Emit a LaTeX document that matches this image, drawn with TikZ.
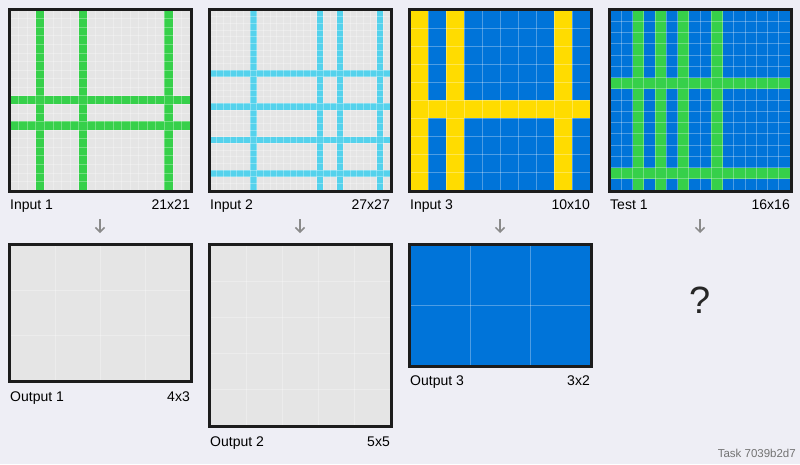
\documentclass[tikz,border=0pt]{standalone}
\usepackage{fontspec}
\setmainfont{Liberation Sans}
\usetikzlibrary{arrows.meta}

\definecolor{sfondo}{HTML}{EEEEF5}
\definecolor{grigio}{HTML}{E5E5E5}
\definecolor{verde}{HTML}{36D04A}
\definecolor{ciano}{HTML}{55D2EC}
\definecolor{blu}{HTML}{0074D9}
\definecolor{giallo}{HTML}{FFDC00}
\definecolor{bordo}{HTML}{1C1C1C}
\definecolor{freccia}{HTML}{8A8A8A}

\tikzset{
  cornice/.style={draw=bordo, line width=3pt},
  linea/.style={white, opacity=0.3, line width=0.6pt},
  etichetta/.style={font=\fontsize{14}{16}\selectfont, inner sep=0pt},
  giu/.style={draw=freccia, line width=1.5pt, -{Straight Barb[length=4.5pt,width=9pt]}}
}

% reticolo: x0, y0, colonne, righe, lato cella
\newcommand{\righe}[5]{%
  \foreach \k in {1,...,\numexpr#3-1\relax}
    \draw[linea] ({#1+\k*#5},#2) -- ({#1+\k*#5},{#2+#4*#5});
  \foreach \k in {1,...,\numexpr#4-1\relax}
    \draw[linea] (#1,{#2+\k*#5}) -- ({#1+#3*#5},{#2+\k*#5});
}

\begin{document}
\begin{tikzpicture}[x=1pt, y=-1pt, line cap=butt]

% Sfondo
\fill[sfondo] (0,0) rectangle (800,464);
\useasboundingbox (0,0) rectangle (800,464);

% Input 1 (21x21)
\def\cella{180/21}
\fill[grigio] (10,10) rectangle (190,190);
\foreach \i in {3,8,18}
  \fill[verde] ({10+\i*\cella},10) rectangle ({10+(\i+1)*\cella},190);
\foreach \j in {10,13}
  \fill[verde] (10,{10+\j*\cella}) rectangle (190,{10+(\j+1)*\cella});
\righe{10}{10}{21}{21}{\cella}
\draw[cornice] (9,9) rectangle (191,191);
\node[etichetta, anchor=base west] (in1) at (10,209) {Input 1};
\node[etichetta, anchor=base east] (dim1) at (190,209) {21x21};

% Input 2 (27x27)
\def\cella{180/27}
\fill[grigio] (210,10) rectangle (390,190);
\foreach \i in {6,16,19,25}
  \fill[ciano] ({210+\i*\cella},10) rectangle ({210+(\i+1)*\cella},190);
\foreach \j in {9,14,19,24}
  \fill[ciano] (210,{10+\j*\cella}) rectangle (390,{10+(\j+1)*\cella});
\righe{210}{10}{27}{27}{\cella}
\draw[cornice] (209,9) rectangle (391,191);
\node[etichetta, anchor=base west] (in2) at (210,209) {Input 2};
\node[etichetta, anchor=base east] (dim2) at (390,209) {27x27};

% Input 3 (10x10)
\def\cella{18}
\fill[blu] (410,10) rectangle (590,190);
\foreach \i in {0,2,8}
  \fill[giallo] ({410+\i*\cella},10) rectangle ({410+(\i+1)*\cella},190);
\fill[giallo] (410,{10+5*\cella}) rectangle (590,{10+6*\cella});
\righe{410}{10}{10}{10}{\cella}
\draw[cornice] (409,9) rectangle (591,191);
\node[etichetta, anchor=base west] (in3) at (410,209) {Input 3};
\node[etichetta, anchor=base east] (dim3) at (590,209) {10x10};

% Test 1 (16x16)
\def\cella{11.25}
\fill[blu] (610,10) rectangle (790,190);
\foreach \i in {2,4,6,9}
  \fill[verde] ({610+\i*\cella},10) rectangle ({610+(\i+1)*\cella},190);
\foreach \j in {6,14}
  \fill[verde] (610,{10+\j*\cella}) rectangle (790,{10+(\j+1)*\cella});
\righe{610}{10}{16}{16}{\cella}
\draw[cornice] (609,9) rectangle (791,191);
\node[etichetta, anchor=base west] (test1) at (610,209) {Test 1};
\node[etichetta, anchor=base east] (dimt) at (790,209) {16x16};

% Frecce
\foreach \x/\n in {100/1,300/2,500/3,700/4} {
  \coordinate (f\n a) at (\x,219);
  \coordinate (f\n b) at (\x,233);
  \draw[giu] (f\n a) -- (f\n b);
}

% Output 1 (4x3)
\fill[grigio] (10,245) rectangle (190,380);
\righe{10}{245}{4}{3}{45}
\draw[cornice] (9,244) rectangle (191,381);
\node[etichetta, anchor=base west] (out1) at (10,401) {Output 1};
\node[etichetta, anchor=base east] (dimo1) at (190,401) {4x3};

% Output 2 (5x5)
\fill[grigio] (210,245) rectangle (390,425);
\righe{210}{245}{5}{5}{36}
\draw[cornice] (209,244) rectangle (391,426);
\node[etichetta, anchor=base west] (out2) at (210,446) {Output 2};
\node[etichetta, anchor=base east] (dimo2) at (390,446) {5x5};

% Output 3 (3x2)
\fill[blu] (410,245) rectangle (590,365);
\righe{410}{245}{3}{2}{60}
\draw[cornice] (409,244) rectangle (591,366);
\node[etichetta, anchor=base west] (out3) at (410,385) {Output 3};
\node[etichetta, anchor=base east] (dimo3) at (590,385) {3x2};

% Incognita
\node[font=\fontsize{38}{42}\selectfont, text=black!85] (ignoto) at (700,300) {?};

% Codice del compito
\node[font=\fontsize{11.5}{13}\selectfont, text=black!55, anchor=base east, inner sep=0pt]
  (compito) at (796,457) {Task 7039b2d7};

\end{tikzpicture}
\end{document}
